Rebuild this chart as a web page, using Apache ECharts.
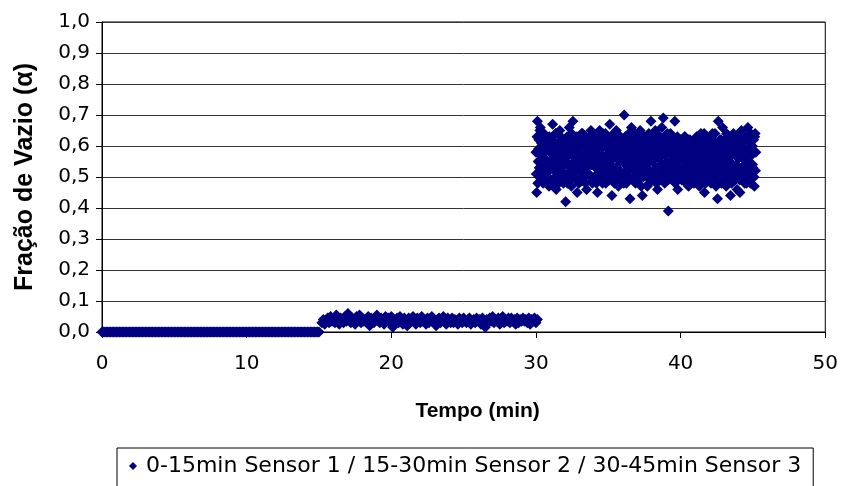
<!DOCTYPE html>
<html>
<head>
<meta charset="utf-8">
<script src="https://cdn.jsdelivr.net/npm/echarts@6/dist/echarts.min.js"></script>
<style>
html,body{margin:0;padding:0;background:#fff;}
#chart{width:841px;height:486px;}
</style>
</head>
<body>
<div id="chart"></div>
<script>
// ---- Data ----
const legendLabel = '0-15min Sensor 1 / 15-30min Sensor 2 / 30-45min Sensor 3';
const xTitle = 'Tempo (min)';
const yTitle = 'Fração de Vazio (α)';
const xTicks = [0, 10, 20, 30, 40, 50];
const yTicks = ['0,0','0,1','0,2','0,3','0,4','0,5','0,6','0,7','0,8','0,9','1,0'];

// sample times: start + index * step (minutes)
const sensor1Start = 0, sensor1Step = 0.1;
const sensor2Start = 15.2, sensor2Step = 0.1;
const sensor3Start = 30.0, sensor3Step = 0.05;
const sensor3bStart = 30.025, sensor3bStep = 0.05;

const sensor1Values = [
 0,0,0,0,0,0,0,0,0,0, 0,0,0,0,0,0,0,0,0,0,
 0,0,0,0,0,0,0,0,0,0, 0,0,0,0,0,0,0,0,0,0,
 0,0,0,0,0,0,0,0,0,0, 0,0,0,0,0,0,0,0,0,0,
 0,0,0,0,0,0,0,0,0,0, 0,0,0,0,0,0,0,0,0,0,
 0,0,0,0,0,0,0,0,0,0, 0,0,0,0,0,0,0,0,0,0,
 0,0,0,0,0,0,0,0,0,0, 0,0,0,0,0,0,0,0,0,0,
 0,0,0,0,0,0,0,0,0,0, 0,0,0,0,0,0,0,0,0,0,
 0,0,0,0,0,0,0,0,0,0, 0
];

const sensor2Values = [
 0.03,0.04,0.025,0.035,0.045,0.03,0.05,0.035,0.04,0.03,
 0.055,0.035,0.025,0.045,0.04,0.03,0.05,0.035,0.06,0.04,
 0.03,0.045,0.035,0.025,0.05,0.04,0.055,0.03,0.045,0.035,
 0.04,0.03,0.05,0.02,0.045,0.035,0.03,0.04,0.055,0.035,
 0.03,0.045,0.04,0.025,0.05,0.035,0.045,0.03,0.05,0.015,
 0.04,0.035,0.045,0.03,0.05,0.04,0.025,0.045,0.035,0.02,
 0.045,0.03,0.04,0.05,0.035,0.025,0.045,0.04,0.03,0.05,
 0.035,0.04,0.025,0.045,0.03,0.04,0.05,0.035,0.03,0.02,
 0.04,0.045,0.03,0.035,0.05,0.04,0.025,0.045,0.035,0.03,
 0.045,0.03,0.04,0.035,0.025,0.045,0.04,0.03,0.045,0.035,
 0.03,0.04,0.045,0.025,0.035,0.04,0.03,0.045,0.035,0.04,
 0.025,0.045,0.035,0.015,0.04,0.03,0.045,0.035,0.05,0.03,
 0.04,0.035,0.045,0.025,0.04,0.05,0.03,0.04,0.035,0.045,
 0.03,0.045,0.035,0.04,0.025,0.045,0.03,0.04,0.035,0.045,
 0.035,0.04,0.03,0.045,0.025,0.04,0.035,0.045,0.03,0.04
];

const sensor3Values = [
 0.58,0.45,0.68,0.55,0.62,0.50,0.66,0.57,0.53,0.60,0.48,0.64,0.56,0.59,0.51,0.63,0.54,0.61,0.47,0.58,
 0.55,0.62,0.49,0.67,0.57,0.52,0.60,0.64,0.46,0.58,0.54,0.61,0.50,0.65,0.56,0.59,0.53,0.62,0.48,0.57,
 0.60,0.42,0.55,0.63,0.51,0.58,0.66,0.53,0.61,0.47,0.57,0.68,0.54,0.59,0.50,0.62,0.56,0.45,0.60,0.55,
 0.52,0.61,0.57,0.64,0.49,0.56,0.60,0.53,0.63,0.58,0.46,0.55,0.62,0.51,0.59,0.57,0.65,0.54,0.48,0.60,
 0.56,0.63,0.50,0.58,0.61,0.45,0.57,0.54,0.65,0.59,0.52,0.62,0.48,0.56,0.60,0.53,0.64,0.57,0.50,0.61,
 0.55,0.59,0.67,0.52,0.58,0.44,0.62,0.56,0.60,0.49,0.57,0.65,0.53,0.61,0.47,0.58,0.55,0.63,0.51,0.59,
 0.57,0.62,0.70,0.54,0.60,0.48,0.56,0.63,0.52,0.59,0.43,0.58,0.66,0.55,0.61,0.50,0.57,0.64,0.53,0.60,
 0.56,0.49,0.62,0.58,0.65,0.53,0.60,0.44,0.57,0.63,0.55,0.51,0.59,0.61,0.47,0.56,0.64,0.58,0.52,0.68,
 0.60,0.55,0.62,0.50,0.57,0.65,0.53,0.59,0.46,0.61,0.56,0.63,0.52,0.58,0.66,0.54,0.69,0.60,0.48,0.57,
 0.62,0.55,0.59,0.39,0.53,0.58,0.64,0.51,0.57,0.61,0.49,0.56,0.68,0.60,0.54,0.58,0.46,0.62,0.55,0.59,
 0.57,0.52,0.61,0.56,0.59,0.49,0.63,0.55,0.58,0.53,0.60,0.47,0.57,0.62,0.54,0.59,0.51,0.56,0.61,0.55,
 0.58,0.50,0.63,0.56,0.53,0.60,0.47,0.57,0.64,0.55,0.52,0.59,0.62,0.45,0.56,0.58,0.54,0.61,0.49,0.57,
 0.55,0.60,0.48,0.57,0.64,0.52,0.58,0.54,0.61,0.47,0.56,0.43,0.68,0.59,0.53,0.57,0.62,0.50,0.66,0.55,
 0.58,0.53,0.61,0.47,0.56,0.63,0.51,0.59,0.55,0.44,0.60,0.57,0.52,0.64,0.49,0.58,0.62,0.54,0.46,0.59,
 0.56,0.61,0.45,0.58,0.65,0.53,0.60,0.50,0.57,0.63,0.55,0.48,0.62,0.66,0.54,0.59,0.51,0.64,0.57,0.60,
 0.53,0.62,0.47,0.64,0.58
];

// interleaved sensor-3 samples (between the ones above)
const sensor3bValues = [
 0.51,0.63,0.48,0.59,0.53,0.65,0.50,0.61,0.55,0.64,0.52,0.58,0.49,0.62,0.55,0.48,0.60,0.52,0.63,0.54,
 0.49,0.62,0.53,0.59,0.47,0.61,0.55,0.50,0.64,0.52,0.60,0.48,0.58,0.53,0.63,0.50,0.57,0.54,0.61,0.51,
 0.62,0.50,0.59,0.48,0.57,0.61,0.49,0.60,0.53,0.64,0.51,0.58,0.55,0.62,0.52,0.49,0.63,0.54,0.59,0.48,
 0.61,0.49,0.57,0.52,0.64,0.50,0.60,0.55,0.48,0.62,0.53,0.59,0.51,0.57,0.63,0.50,0.54,0.61,0.49,0.58,
 0.50,0.63,0.53,0.48,0.60,0.55,0.58,0.51,0.52,0.62,0.49,0.57,0.64,0.50,0.54,0.60,0.48,0.53,0.63,0.51,
 0.60,0.49,0.54,0.62,0.52,0.59,0.50,0.64,0.48,0.61,0.53,0.50,0.58,0.51,0.63,0.52,0.60,0.49,0.57,0.62,
 0.51,0.48,0.59,0.63,0.52,0.61,0.49,0.57,0.64,0.50,0.60,0.53,0.54,0.58,0.49,0.62,0.52,0.48,0.60,0.51,
 0.61,0.49,0.55,0.64,0.51,0.47,0.60,0.53,0.50,0.63,0.52,0.59,0.54,0.50,0.62,0.52,0.48,0.60,0.63,0.50,
 0.49,0.62,0.52,0.64,0.50,0.59,0.48,0.61,0.53,0.50,0.63,0.49,0.58,0.62,0.51,0.53,0.60,0.52,0.63,0.50,
 0.52,0.64,0.49,0.61,0.50,0.59,0.53,0.54,0.62,0.49,0.60,0.52,0.48,0.62,0.51,0.63,0.50,0.53,0.59,0.52,
 0.62,0.49,0.52,0.60,0.53,0.63,0.51,0.48,0.59,0.52,0.50,0.62,0.54,0.53,0.61,0.49,0.58,0.51,0.48,0.61,
 0.50,0.60,0.48,0.52,0.63,0.49,0.59,0.51,0.54,0.61,0.52,0.49,0.64,0.53,0.48,0.59,0.50,0.62,0.52,0.55,
 0.60,0.49,0.63,0.51,0.53,0.58,0.50,0.64,0.48,0.61,0.52,0.49,0.60,0.54,0.62,0.51,0.48,0.59,0.52,0.50,
 0.48,0.61,0.50,0.64,0.52,0.54,0.59,0.49,0.62,0.51,0.48,0.60,0.53,0.63,0.51,0.49,0.58,0.52,0.63,0.50,
 0.61,0.49,0.52,0.64,0.53,0.58,0.50,0.62,0.48,0.53,0.63,0.51,0.55,0.59,0.50,0.64,0.48,0.60,0.51,0.54,
 0.58,0.50,0.63,0.52
];

// ---- Build series data from the arrays ----
function toPairs(values, start, step) {
  return values.map((v, i) => [+(start + i * step).toFixed(3), v]);
}
const allPoints = []
  .concat(toPairs(sensor1Values, sensor1Start, sensor1Step))
  .concat(toPairs(sensor2Values, sensor2Start, sensor2Step))
  .concat(toPairs(sensor3Values, sensor3Start, sensor3Step))
  .concat(toPairs(sensor3bValues, sensor3bStart, sensor3bStep));

const chart = echarts.init(document.getElementById('chart'), null, {renderer: 'canvas'});
const tickFont = {fontFamily: 'DejaVu Sans', fontSize: 20, color: '#000'};

chart.setOption({
  animation: false,
  backgroundColor: '#fff',
  grid: {
    left: 102, right: 15, top: 22, bottom: 154,
    show: true, borderColor: '#000', borderWidth: 1, backgroundColor: 'transparent'
  },
  legend: {
    data: [{name: legendLabel, icon: 'diamond'}],
    left: 117, top: 448,
    orient: 'horizontal',
    borderColor: '#000', borderWidth: 1,
    padding: [7, 12, 10, 12],
    itemWidth: 8, itemHeight: 8,
    textStyle: {fontFamily: 'DejaVu Sans', fontSize: 22, color: '#000', padding: [0, 0, 0, 4]},
    selectedMode: false
  },
  xAxis: {
    type: 'value', min: 0, max: 50, interval: 10,
    name: xTitle, nameLocation: 'middle', nameGap: 69,
    nameTextStyle: {fontFamily: 'Liberation Sans', fontSize: 21, fontWeight: 'bold', color: '#000', padding: [0, 0, 0, 28]},
    axisLine: {show: true, onZero: false, lineStyle: {color: '#000', width: 1}},
    axisTick: {show: true, inside: false, length: 6, lineStyle: {color: '#000'}},
    axisLabel: Object.assign({}, tickFont, {margin: 22, formatter: v => xTicks.includes(v) ? String(v) : ''}),
    splitLine: {show: false}
  },
  yAxis: {
    type: 'value', min: 0, max: 1, interval: 0.1,
    name: yTitle, nameLocation: 'middle', nameGap: 64,
    nameTextStyle: {fontFamily: 'Liberation Sans', fontSize: 25, fontWeight: 'bold', color: '#000'},
    axisLine: {show: true, onZero: false, lineStyle: {color: '#000', width: 1}},
    axisTick: {show: true, inside: false, length: 6, lineStyle: {color: '#000'}},
    axisLabel: Object.assign({}, tickFont, {margin: 12, formatter: v => yTicks[Math.round(v * 10)]}),
    splitLine: {show: true, lineStyle: {color: '#333', width: 1}}
  },
  series: [{
    name: legendLabel,
    type: 'scatter',
    symbol: 'diamond',
    symbolSize: 11,
    itemStyle: {color: '#000080', opacity: 1},
    data: allPoints
  }]
});
</script>
</body>
</html>
